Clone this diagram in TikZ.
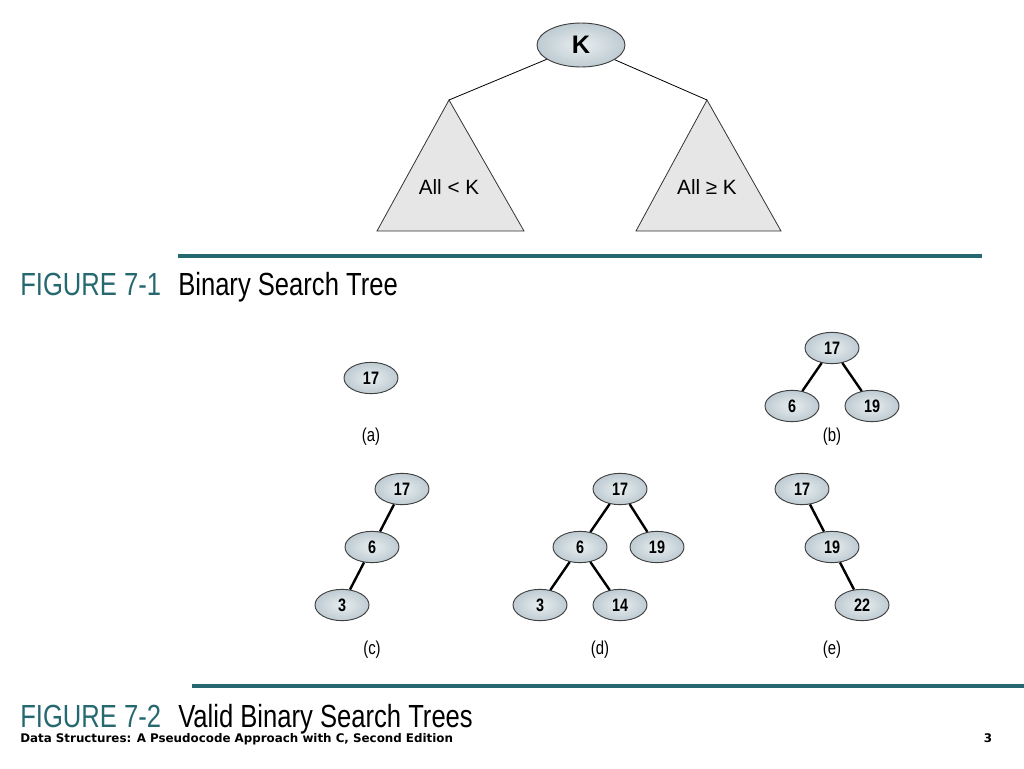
\documentclass[tikz,border=0pt]{standalone}
\usepackage{fontspec}
\setmainfont{Liberation Sans}
\newfontfamily\narrowfont[FakeStretch=0.8]{Liberation Sans}
\newfontfamily\footfont{DejaVu Sans}
\usetikzlibrary{shapes,positioning}
\definecolor{captionteal}{RGB}{38,104,112}
\definecolor{keyfill}{RGB}{190,203,210}
\definecolor{keyshine}{RGB}{232,238,240}
\definecolor{subtreefill}{RGB}{230,230,230}

\begin{document}
\begin{tikzpicture}[x=0.75pt,y=-0.75pt,on grid,node distance=43.5pt and 30pt]
    \tikzstyle{key} = [draw=black!75, line width=0.7pt, shape=ellipse, inner sep=0pt, minimum width=40.5pt, minimum height=23.5pt, inner color=keyshine, outer color=keyfill, font=\narrowfont\bfseries\fontsize{13.5}{15}\selectfont]
    \tikzstyle{rootkey} = [key, minimum width=66pt, minimum height=33pt, font=\bfseries\fontsize{19}{22}\selectfont]
    \tikzstyle{subtree} = [draw=black!80, fill=subtreefill, line width=0.6pt]
    \tikzstyle{branch} = [line width=1.8pt]
    \tikzstyle{sublabel} = [font=\narrowfont\fontsize{14}{16}\selectfont]
    \tikzstyle{rule} = [draw=captionteal, line width=2.4pt]
    \tikzstyle{caption} = [anchor=base west, inner sep=0pt, font=\narrowfont\fontsize{24}{28}\selectfont]
    \useasboundingbox (0,0) rectangle (1024,768);

    %Figure 7-1
    \node [rootkey] (K) at (581,45) {K};
    \coordinate (left_apex) at (449,100);
    \coordinate (right_apex) at (707,100);
    \draw [subtree] (left_apex) -- (377,231) -- (524,231) -- cycle;
    \draw [subtree] (right_apex) -- (636,231) -- (781,231) -- cycle;
    \node [font=\fontsize{15.5}{18}\selectfont] (less) at (449,187) {All < K};
    \node [font=\fontsize{15.5}{18}\selectfont] (greater) at (707,187) {All ≥ K};
    \draw [line width=0.6pt] (K) -- (left_apex);
    \draw [line width=0.6pt] (K) -- (right_apex);

    \coordinate (rule_1a) at (178,256);
    \coordinate (rule_1b) at (982,256);
    \draw [rule] (rule_1a) -- (rule_1b);
    \node [caption, text=captionteal] (fig_1) at (20,295) {FIGURE 7-1};
    \node [caption] (title_1) at (178,295) {Binary Search Tree};

    %Figure 7-2
    \node [key] (a_17) at (371,378) {17};
    \node [sublabel] (label_a) at (371,437) {(a)};

    \node [key] (b_17) at (832,348) {17};
    \node [key, below left=of b_17] (b_6) {6};
    \node [key, below right=of b_17] (b_19) {19};
    \node [sublabel] (label_b) at (832,437) {(b)};

    \node [key] (c_17) at (402,489) {17};
    \node [key, below left=43.5pt and 22.5pt of c_17] (c_6) {6};
    \node [key, below left=43.5pt and 22.5pt of c_6] (c_3) {3};
    \node [sublabel] (label_c) at (372,650) {(c)};

    \node [key] (d_17) at (620,489) {17};
    \node [key, below left=of d_17] (d_6) {6};
    \node [key, below right=43.5pt and 27.75pt of d_17] (d_19) {19};
    \node [key, below left=of d_6] (d_3) {3};
    \node [key, below right=of d_6] (d_14) {14};
    \node [sublabel] (label_d) at (600,650) {(d)};

    \node [key] (e_17) at (802,489) {17};
    \node [key, below right=43.5pt and 22.5pt of e_17] (e_19) {19};
    \node [key, below right=43.5pt and 22.5pt of e_19] (e_22) {22};
    \node [sublabel] (label_e) at (832,650) {(e)};

    \begin{scope}[branch]
        \draw (b_17) -- (b_6);
        \draw (b_17) -- (b_19);
        \draw (c_17) -- (c_6);
        \draw (c_6) -- (c_3);
        \draw (d_17) -- (d_6);
        \draw (d_17) -- (d_19);
        \draw (d_6) -- (d_3);
        \draw (d_6) -- (d_14);
        \draw (e_17) -- (e_19);
        \draw (e_19) -- (e_22);
    \end{scope}

    \coordinate (rule_2a) at (192,686);
    \coordinate (rule_2b) at (1024,686);
    \draw [rule] (rule_2a) -- (rule_2b);
    \node [caption, text=captionteal] (fig_2) at (20,727) {FIGURE 7-2};
    \node [caption] (title_2) at (178,727) {Valid Binary Search Trees};

    \node [anchor=base west, inner sep=0pt, font=\footfont\bfseries\fontsize{8.9}{10}\selectfont] (footer) at (20,742) {Data Structures: A Pseudocode Approach with C, Second Edition};
    \node [anchor=base, inner sep=0pt, font=\footfont\bfseries\fontsize{8.9}{10}\selectfont] (page) at (988,742) {3};
\end{tikzpicture}
\end{document}
